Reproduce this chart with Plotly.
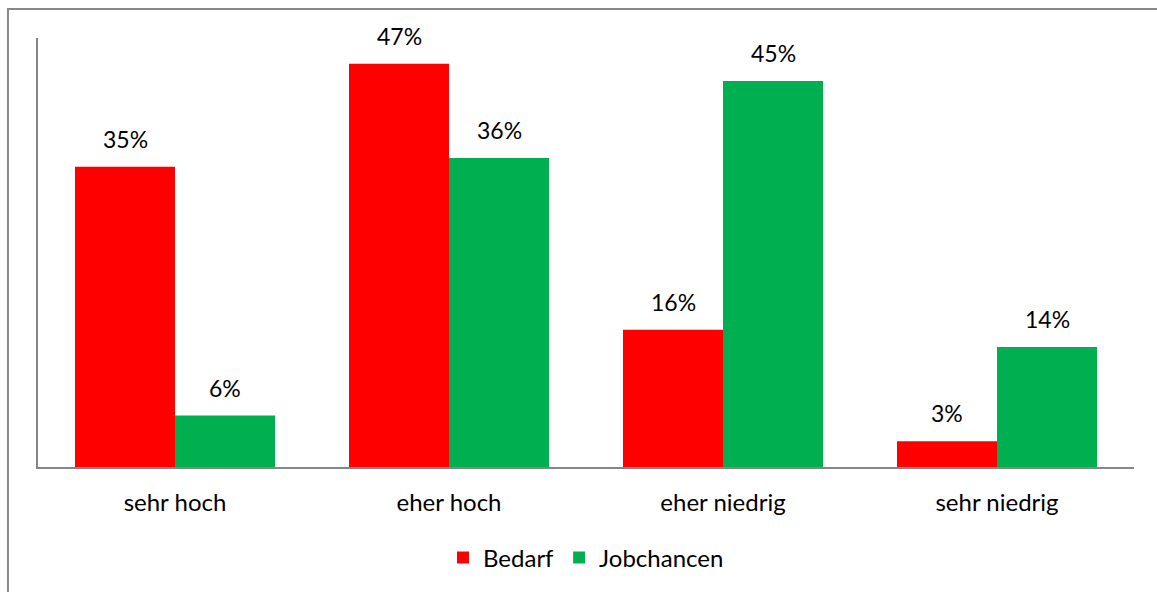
import plotly.graph_objects as go

categories = ["sehr hoch", "eher hoch", "eher niedrig", "sehr niedrig"]
bedarf = [35, 47, 16, 3]
jobchancen = [6, 36, 45, 14]
series_names = ["Bedarf", "Jobchancen"]
colors = ["#FF0000", "#00B050"]

FONT = "Lato, Carlito, 'Open Sans', sans-serif"

fig = go.Figure()
for name, vals, col in zip(series_names, [bedarf, jobchancen], colors):
    fig.add_trace(go.Bar(
        x=categories, y=vals, name=name, marker_color=col,
        marker_line_width=0,
    ))

# data labels as annotations
for vals, shift in zip([bedarf, jobchancen], [-50, 50]):
    for c, v in zip(categories, vals):
        fig.add_annotation(x=c, y=v, text=f"{v}%", showarrow=False,
                           xshift=shift, yshift=12, yanchor="bottom",
                           font=dict(size=23, color="#000000", family=FONT))

fig.update_layout(
    barmode="group", bargap=0.27, bargroupgap=0,
    width=1157, height=592,
    margin=dict(l=38, r=23, t=38, b=125),
    plot_bgcolor="white", paper_bgcolor="white",
    font=dict(family=FONT, size=24, color="#000000"),
    legend=dict(orientation="h", x=0.5, xanchor="center", y=-0.212, yanchor="middle",
                font=dict(size=24, family=FONT), itemwidth=30, tracegroupgap=0),
    xaxis=dict(showline=True, linecolor="#868686", linewidth=2, ticks="",
               tickfont=dict(size=24, family=FONT), ticklabelstandoff=13,
               showgrid=False, zeroline=False),
    yaxis=dict(range=[0, 50], showline=True, linecolor="#868686", linewidth=2,
               showticklabels=False, ticks="", showgrid=False, zeroline=False),
    showlegend=True,
)

fig.add_shape(type="rect", xref="paper", yref="paper",
              x0=-0.0274, y0=-0.5, x1=1.2, y1=1.0676,
              line=dict(color="#888888", width=2), fillcolor="rgba(0,0,0,0)", layer="below")

fig.write_html("out.html")
